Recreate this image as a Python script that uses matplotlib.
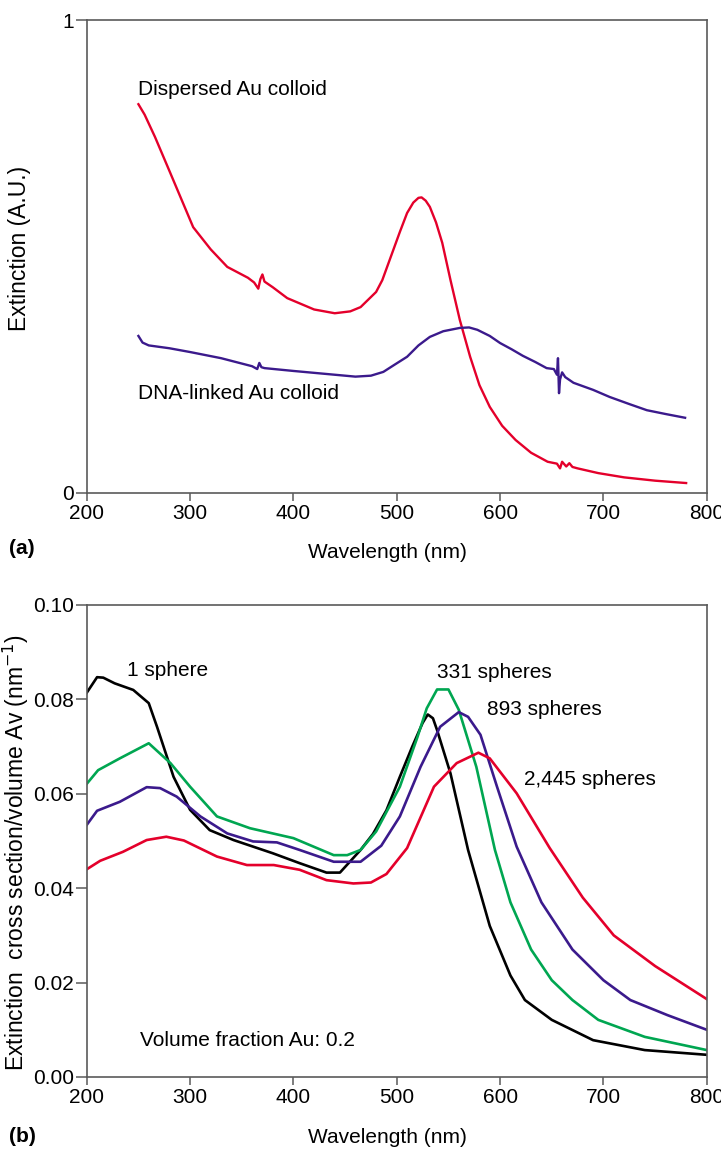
import matplotlib.pyplot as plt

plt.rcParams['font.family'] = ['Liberation Sans', 'DejaVu Sans']

# panel (a): measured extinction spectra
disp_wl = [250, 256, 266, 280, 303, 320, 336, 356, 362, 366, 368, 370, 372, 380, 394,
           420, 440, 455, 465, 480, 486, 496, 503, 510, 516, 521, 524, 528, 532, 538,
           544, 552, 561, 571, 580, 590, 602, 615, 630, 646, 655, 658, 660, 664, 667,
           670, 675, 695, 720, 750, 780]
disp_ext = [0.822, 0.80, 0.753, 0.681, 0.562, 0.515, 0.478, 0.455, 0.445, 0.432, 0.452,
            0.462, 0.447, 0.435, 0.412, 0.388, 0.380, 0.384, 0.393, 0.425, 0.450, 0.510,
            0.552, 0.592, 0.614, 0.624, 0.625, 0.618, 0.605, 0.572, 0.529, 0.450, 0.366,
            0.288, 0.228, 0.182, 0.142, 0.112, 0.085, 0.066, 0.062, 0.052, 0.066, 0.056,
            0.063, 0.055, 0.052, 0.042, 0.033, 0.026, 0.021]

dna_wl = [250, 254, 260, 280, 300, 330, 360, 365, 367, 369, 372, 400, 430, 460, 475,
          487, 497, 510, 521, 532, 545, 561, 570, 578, 590, 600, 611, 622, 634, 645,
          652, 655, 656, 657, 658, 660, 663, 671, 690, 706, 725, 742, 760, 779]
dna_ext = [0.332, 0.318, 0.312, 0.306, 0.298, 0.285, 0.268, 0.262, 0.275, 0.266, 0.264,
           0.258, 0.252, 0.246, 0.248, 0.256, 0.270, 0.288, 0.312, 0.330, 0.342, 0.349,
           0.350, 0.345, 0.332, 0.317, 0.304, 0.290, 0.277, 0.264, 0.262, 0.250, 0.285,
           0.211, 0.240, 0.255, 0.245, 0.233, 0.218, 0.203, 0.188, 0.175, 0.167, 0.159]

# panel (b): calculated spectra for aggregates
s1_wl = [200, 210, 216, 227, 245, 260, 268, 284, 300, 319, 342, 380, 406, 432, 445,
         465, 477, 490, 503, 515, 525, 530, 535, 539, 552, 569, 590, 610, 624, 650,
         690, 740, 800]
s1_ext = [0.0814, 0.0847, 0.0846, 0.0834, 0.0820, 0.0792, 0.0742, 0.0636, 0.0566,
          0.0523, 0.0502, 0.0474, 0.0453, 0.0433, 0.0433, 0.0481, 0.0515, 0.0565,
          0.0636, 0.0700, 0.0750, 0.0768, 0.0760, 0.0735, 0.0643, 0.0481, 0.0320,
          0.0215, 0.0163, 0.0121, 0.0078, 0.0057, 0.0047]

s331_wl = [200, 211, 232, 260, 281, 300, 326, 358, 400, 439, 452, 465, 480, 503, 520,
           529, 539, 550, 560, 577, 595, 610, 630, 650, 670, 695, 740, 800]
s331_ext = [0.0621, 0.0650, 0.0675, 0.0707, 0.0665, 0.0615, 0.0552, 0.0527, 0.0506,
            0.0470, 0.0470, 0.0481, 0.0520, 0.0615, 0.0720, 0.0781, 0.0821, 0.0821,
            0.0778, 0.0657, 0.0481, 0.0370, 0.0270, 0.0205, 0.0163, 0.0121, 0.0085,
            0.0057]

s893_wl = [200, 210, 232, 258, 271, 287, 310, 336, 361, 384, 406, 439, 465, 485, 503,
           523, 542, 560, 569, 581, 597, 616, 640, 670, 700, 726, 762, 800]
s893_ext = [0.0534, 0.0564, 0.0583, 0.0614, 0.0612, 0.0594, 0.0552, 0.0516, 0.0499,
            0.0497, 0.0481, 0.0456, 0.0456, 0.0490, 0.0552, 0.0657, 0.0742, 0.0773,
            0.0763, 0.0725, 0.0615, 0.0488, 0.0370, 0.0270, 0.0205, 0.0163, 0.0131,
            0.0100]

s2445_wl = [200, 213, 235, 258, 277, 294, 326, 355, 381, 406, 432, 458, 475, 490, 510,
            536, 558, 579, 590, 616, 648, 680, 710, 750, 800]
s2445_ext = [0.0440, 0.0458, 0.0477, 0.0502, 0.0509, 0.0501, 0.0467, 0.0449, 0.0449,
             0.0439, 0.0417, 0.0410, 0.0412, 0.0430, 0.0485, 0.0615, 0.0665, 0.0687,
             0.0675, 0.0601, 0.0485, 0.0380, 0.0300, 0.0235, 0.0165]

wl_ticks = [200, 300, 400, 500, 600, 700, 800]

RED = '#e4002b'
PURPLE = '#3b1a8c'
GREEN = '#00a651'
SPINE = '#5a5a5a'
FS = 15
FS_YLAB = 16.5


def style_axes(ax):
    for sp in ax.spines.values():
        sp.set_color(SPINE)
        sp.set_linewidth(1.2)
    ax.tick_params(axis='x', direction='out', length=6, width=1.1, color=SPINE,
                   labelsize=FS, pad=2)
    ax.tick_params(axis='y', direction='out', length=8, width=1.1, color=SPINE,
                   labelsize=FS, pad=1)
    ax.set_xlim(200, 800)
    ax.set_xticks(wl_ticks)


fig = plt.figure(figsize=(7.21, 11.51), dpi=100)

ax1 = fig.add_axes([0.1203, 0.5717, 0.860, 0.4109])
ax1.plot(disp_wl, disp_ext, color=RED, lw=1.7)
ax1.plot(dna_wl, dna_ext, color=PURPLE, lw=1.7)
style_axes(ax1)
ax1.set_ylim(0, 1)
ax1.set_yticks([0, 1])
ax1.set_yticklabels(['0', '1'])
ax1.text(249.6, 0.854, 'Dispersed Au colloid', fontsize=FS, va='center')
ax1.text(250, 0.211, 'DNA-linked Au colloid', fontsize=FS, va='center')
ax1.set_xlabel('Wavelength (nm)', fontsize=FS)
ax1.xaxis.set_label_coords(0.485, -0.106)
ax1.set_ylabel('Extinction (A.U.)', fontsize=FS_YLAB)
ax1.yaxis.set_label_coords(-0.090, 0.516)

ax2 = fig.add_axes([0.1203, 0.0643, 0.860, 0.4101])
ax2.plot(s1_wl, s1_ext, color='black', lw=1.9)
ax2.plot(s331_wl, s331_ext, color=GREEN, lw=1.9)
ax2.plot(s893_wl, s893_ext, color=PURPLE, lw=1.9)
ax2.plot(s2445_wl, s2445_ext, color=RED, lw=1.9)
style_axes(ax2)
ax2.set_ylim(0, 0.10)
ax2.set_yticks([0.0, 0.02, 0.04, 0.06, 0.08, 0.10])
ax2.set_yticklabels(['0.00', '0.02', '0.04', '0.06', '0.08', '0.10'])
ax2.text(239, 0.0862, '1 sphere', fontsize=FS, va='center')
ax2.text(539, 0.0856, '331 spheres', fontsize=FS, va='center')
ax2.text(587, 0.0778, '893 spheres', fontsize=FS, va='center')
ax2.text(623, 0.0631, '2,445 spheres', fontsize=FS, va='center')
ax2.text(251.6, 0.0078, 'Volume fraction Au: 0.2', fontsize=FS, va='center')
ax2.set_xlabel('Wavelength (nm)', fontsize=FS)
ax2.xaxis.set_label_coords(0.485, -0.108)
ax2.set_ylabel('Extinction  cross section/volume Av (nm$^{-1}$)', fontsize=FS_YLAB)
ax2.yaxis.set_label_coords(-0.090, 0.475)

fig.text(0.012, 1 - 548 / 1151, '(a)', fontsize=FS, fontweight='bold', va='center')
fig.text(0.012, 1 - 1136 / 1151, '(b)', fontsize=FS, fontweight='bold', va='center')

fig.savefig('out.png', dpi=100)
